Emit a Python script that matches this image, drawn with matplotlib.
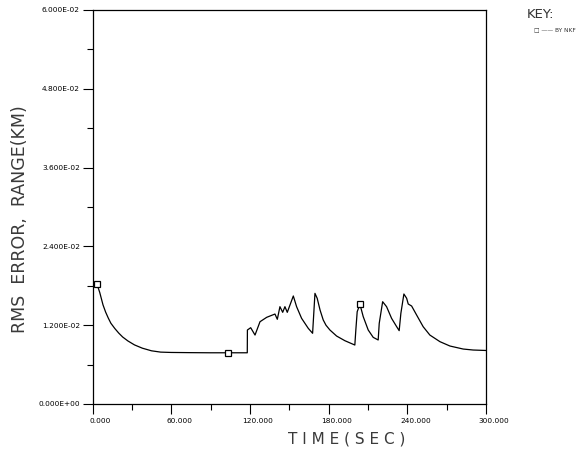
import matplotlib
matplotlib.use("Agg")
import matplotlib.pyplot as plt
from matplotlib.ticker import FixedLocator
import matplotlib.transforms as mtransforms

# ---- data ----
time_sec = [3.5, 5.5, 8, 10, 12, 14, 17, 20, 23, 27, 32, 38, 45, 52, 60, 75, 90, 103.5, 118,
            118.1, 120.6, 123.9, 127.7, 132.8, 139.1, 140.9, 142.9, 145, 146.7, 148.5, 153.1,
            155.6, 159.4, 164.5, 167.8, 169.6, 171.3, 173.5, 175.9, 178, 181, 186.1, 192.4, 200,
            200.8, 201.8, 203.9, 206.4, 210.2, 214, 217.8, 218.6, 221.2, 224.2, 228, 231.9,
            233.8, 235.1, 237.4, 239.5, 240.7, 243.3, 247.1, 252.1, 257.2, 264.9, 272.5,
            282.6, 290.2, 300]
rms_range = [0.0182, 0.0170, 0.0151, 0.0140, 0.0131, 0.0123, 0.0115, 0.0108, 0.0102, 0.0096,
             0.0090, 0.0085, 0.0081, 0.0079, 0.00785, 0.00782, 0.0078, 0.0078, 0.0078,
             0.01127, 0.01162, 0.0105, 0.01253, 0.0132, 0.0137, 0.0129, 0.01482, 0.01396,
             0.01482, 0.01396, 0.01645, 0.01482, 0.01305, 0.01152, 0.01077, 0.01685, 0.0161,
             0.0143, 0.0128, 0.0120, 0.01127, 0.01035, 0.00964, 0.00898,
             0.01137, 0.01406, 0.01518, 0.0133, 0.01127, 0.01015, 0.00975, 0.01228, 0.01558,
             0.01482, 0.01305, 0.01177, 0.01117, 0.01381, 0.01675, 0.0161, 0.01523, 0.01492,
             0.01355, 0.01177, 0.0105, 0.00949, 0.00883, 0.00837, 0.00822, 0.00815]
marker_time = [3.5, 103.5, 203.9]
marker_rms = [0.0182, 0.0078, 0.01518]

x_major = [0, 60, 120, 180, 240, 300]
x_minor = [30, 90, 150, 210, 270]
y_major = [0.0, 0.012, 0.024, 0.036, 0.048, 0.060]
y_minor = [0.006, 0.018, 0.030, 0.042, 0.054]
y_tick_labels = ["0.000E+00", "1.200E-02", "2.400E-02", "3.600E-02", "4.800E-02", "6.000E-02"]
x_tick_labels = ["0.000", "60.000", "120.000", "180.000", "240.000", "300.000"]

plt.rcParams['font.family'] = ['DejaVu Sans']

fig = plt.figure(figsize=(5.82, 4.51), dpi=100)
ax = fig.add_axes([92.5 / 582, 1 - 404 / 451, (486 - 92.5) / 582, (404 - 10) / 451])

ax.plot(time_sec, rms_range, color='black', lw=0.9)
ax.plot(marker_time, marker_rms, linestyle='none', marker='s', ms=4.5,
        mfc='white', mec='black', mew=0.9)

ax.set_xlim(0, 300)
ax.set_ylim(0, 0.06)

ax.xaxis.set_major_locator(FixedLocator(x_major))
ax.xaxis.set_minor_locator(FixedLocator(x_minor))
ax.yaxis.set_major_locator(FixedLocator(y_major))
ax.yaxis.set_minor_locator(FixedLocator(y_minor))
ax.set_xticklabels(x_tick_labels)
ax.set_yticklabels(y_tick_labels)

ax.tick_params(axis='both', which='major', direction='out', length=7, width=0.8,
               labelsize=5.3, colors='black')
ax.tick_params(axis='both', which='minor', direction='out', length=4, width=0.8)
ax.tick_params(axis='y', which='major', pad=2)
ax.tick_params(axis='x', which='major', pad=3)

# shift x tick labels slightly right like the plotter output
offset = mtransforms.ScaledTranslation(8 / 100, 0, fig.dpi_scale_trans)
for lab in ax.get_xticklabels():
    lab.set_transform(lab.get_transform() + offset)

for s in ax.spines.values():
    s.set_linewidth(0.9)
    s.set_color('black')

fig.text(20 / 582, 1 - 219 / 451, "RMS  ERROR,  RANGE(KM)", rotation=90,
         ha='center', va='center', fontsize=12.5, color='#3a3a3a')
fig.text(347 / 582, 1 - 439 / 451, "T I M E ( S E C )", ha='center', va='center',
         fontsize=11, color='#3a3a3a')

fig.text(527 / 582, 1 - 14 / 451, "KEY:", ha='left', va='center', fontsize=9.5, color='#333333')
fig.text(534 / 582, 1 - 30 / 451, "\u25a1 \u2014\u2014 BY NKF", ha='left', va='center',
         fontsize=4.2, color='#333333')

fig.savefig("out.png", dpi=100)
